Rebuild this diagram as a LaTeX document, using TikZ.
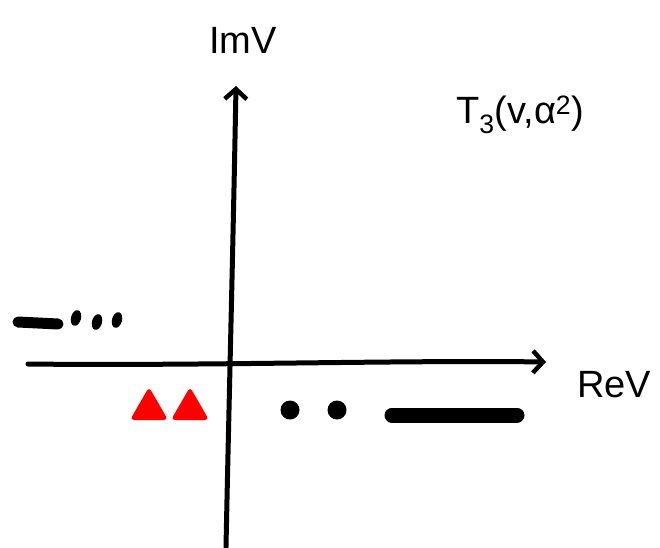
\documentclass[tikz,border=0pt]{standalone}
\usepackage{fontspec}
\setmainfont{Liberation Sans}
\usetikzlibrary{arrows.meta,shapes.geometric}
\begin{document}
\begin{tikzpicture}[x=1pt,y=-1pt,
  axis/.style={line width=5pt, line cap=round, -{Straight Barb[length=10pt,width=22pt,line width=4.5pt]}},
  lbl/.style={font=\fontsize{38}{38}\selectfont, inner sep=0pt},
  blob/.style={circle, fill=black, inner sep=0pt},
  tri/.style={regular polygon, regular polygon sides=3, fill=red, inner sep=0pt, minimum size=44pt, rounded corners=4pt},
  bar/.style={line width=#1, line cap=round}]
\useasboundingbox (0,0) rectangle (660,547);
% axes
\coordinate (vbot) at (226,547);
\coordinate (vtop) at (236,86);
\coordinate (hl) at (28,364);
\coordinate (hr) at (546,362);
\draw[axis] (vbot) .. controls (229,400) and (233,250) .. (vtop);
\draw[axis] (hl) .. controls (200,366) and (400,360) .. (hr);
% labels
\node[lbl] (im) at (243,40) {ImV};
\node[lbl] (t3) at (520,115) {T\textsubscript{3}(v,α\textsuperscript{2})};
\node[lbl] (re) at (614,385) {ReV};
% upper left: bar and dots
\coordinate (b1a) at (18,322);
\coordinate (b1b) at (58,324);
\draw[bar=11pt] (b1a) -- (b1b);
\node[blob, minimum width=10pt, minimum height=16pt, ellipse, rotate=-15] (d1) at (76,318) {};
\node[blob, minimum width=10pt, minimum height=16pt, ellipse, rotate=-15] (d2) at (97,322) {};
\node[blob, minimum width=10pt, minimum height=16pt, ellipse, rotate=-15] (d3) at (117,320) {};
% red triangles
\node[tri] (r1) at (149,409) {};
\node[tri] (r2) at (190,409) {};
% black dots
\node[blob, minimum size=19pt] (k1) at (290,410) {};
\node[blob, minimum size=19pt] (k2) at (337,410) {};
% lower right bar
\coordinate (b2a) at (392,415);
\coordinate (b2b) at (517,415);
\draw[bar=15pt] (b2a) -- (b2b);
\end{tikzpicture}
\end{document}
